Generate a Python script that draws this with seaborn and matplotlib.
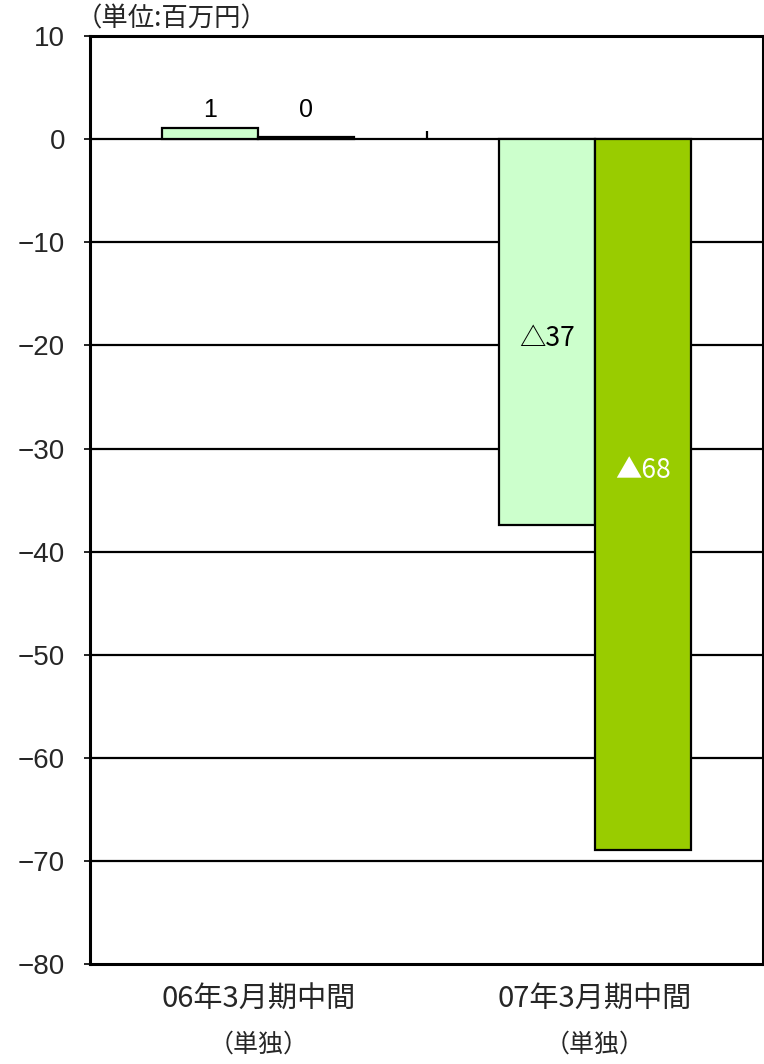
import matplotlib
matplotlib.use("Agg")
import matplotlib.pyplot as plt
import matplotlib.transforms as mtransforms
import seaborn as sns
import pandas as pd

# Data
categories = ["06年3月期中間", "07年3月期中間"]
sub_label = "（単独）"
series = ["経常利益", "当期純利益"]
values_a = [1.1, -37.4]
values_b = [0.2, -68.9]
bar_labels_a = ["1", "△37"]
bar_labels_b = ["0", "▲68"]
unit_label = "（単位:百万円）"
y_ticks = [10, 0, -10, -20, -30, -40, -50, -60, -70, -80]

sns.set_theme(style="white")
plt.rcParams["font.family"] = ["Noto Sans CJK JP", "DejaVu Sans"]

df = pd.DataFrame({
    "category": categories * 2,
    "series": [series[0]] * 2 + [series[1]] * 2,
    "value": values_a + values_b,
})

fig = plt.figure(figsize=(7.64, 10.64), dpi=100)
ax = fig.add_axes([0.1178, 0.094, 0.881, 0.872])

palette = {series[0]: "#CCFFCC", series[1]: "#99CC00"}
sns.barplot(data=df, x="category", y="value", hue="series", order=categories,
            hue_order=series, palette=palette, saturation=1, width=0.57, gap=0,
            edgecolor="black", linewidth=1.6, legend=False, ax=ax, zorder=3)

ax.set_xlim(-0.5, 1.5)
ax.set_ylim(-80, 10)
ax.set_yticks(y_ticks)
ax.set_yticklabels([str(t).replace("-", "\u2212") for t in y_ticks],
                   family=["Liberation Sans", "DejaVu Sans"], fontsize=20)
ax.tick_params(axis="y", length=4, width=1.2, color="black", left=True, pad=14)
ax.set_xticks([])
ax.set_xlabel("")
ax.set_ylabel("")

# horizontal gridlines
for t in y_ticks[1:-1]:
    ax.axhline(t, color="black", lw=1.6, zorder=1)
# category separator tick on the zero line
ax.vlines(0.5, 0, 0.8, color="black", lw=1.6, zorder=2)

for s in ax.spines.values():
    s.set_color("black")
    s.set_linewidth(2.2)
    s.set_visible(True)

# value labels
offset = 0.57 / 4
lab_font = ["Liberation Sans", "Noto Sans CJK JP"]
for i, (va, vb) in enumerate(zip(values_a, values_b)):
    xa, xb = i - offset, i + offset
    if va >= 0:
        ax.text(xa, 2.8, bar_labels_a[i], ha="center", va="center", fontsize=18,
                family=lab_font, color="black")
    else:
        ax.text(xa, va * 0.516, bar_labels_a[i], ha="center", va="center", fontsize=19,
                family=["Noto Sans CJK JP", "Liberation Sans"], color="black")
    if vb >= 0:
        ax.text(xb, 2.8, bar_labels_b[i], ha="center", va="center", fontsize=18,
                family=lab_font, color="black")
    else:
        ax.text(xb, vb * 0.467, bar_labels_b[i], ha="center", va="center", fontsize=19,
                family=["Noto Sans CJK JP", "Liberation Sans"], color="white")

# category labels below the axis
trans = mtransforms.blended_transform_factory(ax.transData, fig.transFigure)
for i, c in enumerate(categories):
    ax.text(i, 1 - 1000 / 1064, c, transform=trans, ha="center", va="center", fontsize=21)
    ax.text(i, 1 - 1045 / 1064, sub_label, transform=trans, ha="center", va="center", fontsize=18)

fig.text(172 / 764, 1 - 19 / 1064, unit_label, ha="center", va="center", fontsize=19)

fig.savefig("out.png", dpi=100)
